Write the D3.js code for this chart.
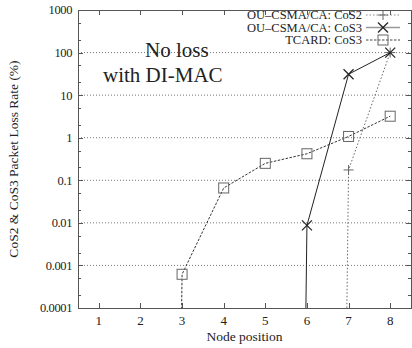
<!DOCTYPE html>
<html>
<head>
<meta charset="utf-8">
<script src="https://cdn.jsdelivr.net/npm/d3@7"></script>
<style>
  body { margin: 0; background: #fff; }
  svg { display: block; font-family: "Liberation Serif", "DejaVu Serif", serif; }
</style>
</head>
<body>
<svg id="chart" width="412" height="348"></svg>
<script>
// node positions and loss rates (%), 0 = no loss
const nodes = [1, 2, 3, 4, 5, 6, 7, 8];
const ouCos2 = [0, 0, 0, 0, 0, 0, 0.175, 100];
const ouCos3 = [0, 0, 0, 0, 0, 0.0087, 31, 100];
const tcardCos3 = [0, 0, 0.00062, 0.066, 0.25, 0.42, 1.07, 3.2];
const yTicks = [0.0001, 0.001, 0.01, 0.1, 1, 10, 100, 1000];
const yTickLabels = ["0.0001", "0.001", "0.01", "0.1", "1", "10", "100", "1000"];

function chart() {
    const svg = d3.select('#chart'),
        left = 78, right = 411, top = 10, bottom = 308;

    const x = d3.scaleLinear().domain([0.5, 8.5]).range([left, right]);
    const y = d3.scaleLog().domain([1e-4, 1e3]).range([bottom, top]);

    svg.append('defs').append('clipPath').attr('id', 'plot')
        .append('rect')
        .attr('x', left).attr('y', top)
        .attr('width', right - left).attr('height', bottom - top);

    // horizontal grid
    svg.append('g')
        .selectAll('line')
        .data(yTicks.slice(1, -1))
        .enter().append('line')
        .attr('x1', left).attr('x2', right)
        .attr('y1', d => y(d)).attr('y2', d => y(d))
        .attr('stroke', '#777')
        .attr('stroke-width', 1)
        .attr('stroke-dasharray', '1,2');

    // annotation
    svg.append('text').attr('x', 145).attr('y', 57)
        .attr('font-size', '21px').attr('fill', '#222').text('No loss');
    svg.append('text').attr('x', 103).attr('y', 82)
        .attr('font-size', '21px').attr('fill', '#222').text('with DI-MAC');

    // ticks, mirrored, pointing inward
    const axis = svg.append('g').attr('stroke', '#555').attr('stroke-width', 1);
    const minors = [];
    yTicks.slice(0, -1).forEach(d => { minors.push(d * 2, d * 5); });
    yTicks.forEach(d => {
        axis.append('line').attr('x1', left).attr('x2', left + 5)
            .attr('y1', Math.round(y(d)) + 0.5).attr('y2', Math.round(y(d)) + 0.5);
        axis.append('line').attr('x1', right - 5).attr('x2', right)
            .attr('y1', Math.round(y(d)) + 0.5).attr('y2', Math.round(y(d)) + 0.5);
    });
    minors.forEach(d => {
        axis.append('line').attr('x1', left).attr('x2', left + 3)
            .attr('y1', Math.round(y(d)) + 0.5).attr('y2', Math.round(y(d)) + 0.5);
        axis.append('line').attr('x1', right - 3).attr('x2', right)
            .attr('y1', Math.round(y(d)) + 0.5).attr('y2', Math.round(y(d)) + 0.5);
    });
    nodes.forEach(d => {
        const px = Math.round(x(d)) + 0.5;
        axis.append('line').attr('x1', px).attr('x2', px)
            .attr('y1', bottom).attr('y2', bottom - 5);
        axis.append('line').attr('x1', px).attr('x2', px)
            .attr('y1', top).attr('y2', top + 5);
    });

    // tick labels
    svg.append('g').selectAll('text')
        .data(yTicks).enter().append('text')
        .attr('x', left - 6).attr('y', d => y(d))
        .attr('dy', '0.35em')
        .attr('text-anchor', 'end')
        .attr('font-size', '12.5px')
        .attr('letter-spacing', '-0.4px')
        .attr('fill', '#222')
        .text((d, i) => yTickLabels[i]);

    svg.append('g').selectAll('text')
        .data(nodes).enter().append('text')
        .attr('x', d => x(d)).attr('y', 325)
        .attr('text-anchor', 'middle')
        .attr('font-size', '13px')
        .attr('fill', '#222')
        .text(d => d);

    svg.append('text')
        .attr('x', (left + right) / 2).attr('y', 341)
        .attr('text-anchor', 'middle')
        .attr('font-size', '13.5px')
        .attr('fill', '#222')
        .text('Node position');

    svg.append('text')
        .attr('transform', 'translate(18,' + ((top + bottom) / 2) + ') rotate(-90)')
        .attr('text-anchor', 'middle')
        .attr('font-size', '13.5px')
        .attr('fill', '#222')
        .text('CoS2 & CoS3 Packet Loss Rate (%)');

    // series
    const series = [
        { name: 'OU\u2013CSMA/CA: CoS2', values: ouCos2, dash: '1.5,2', stroke: '#666', legendStroke: '#888', marker: 'plus' },
        { name: 'OU\u2013CSMA/CA: CoS3', values: ouCos3, dash: null, stroke: '#222', legendStroke: '#999', marker: 'cross' },
        { name: 'TCARD: CoS3', values: tcardCos3, dash: '2.5,1.5', stroke: '#333', legendStroke: '#444', marker: 'square' }
    ];

    // zero loss is drawn far below the axis so the rising segment looks like a drop line
    const line = d3.line()
        .x((d, i) => x(nodes[i]))
        .y(d => y(d > 0 ? d : 1e-80));

    const plot = svg.append('g').attr('clip-path', 'url(#plot)');

    function marker(g, type, cx, cy) {
        const m = g.append('g').attr('stroke', '#666').attr('stroke-width', 1).attr('fill', 'none');
        if (type === 'plus') {
            m.append('line').attr('x1', cx - 5).attr('x2', cx + 5).attr('y1', cy).attr('y2', cy);
            m.append('line').attr('x1', cx).attr('x2', cx).attr('y1', cy - 5).attr('y2', cy + 5);
        } else if (type === 'cross') {
            m.attr('stroke', '#222').attr('stroke-width', 1.2);
            m.append('line').attr('x1', cx - 5).attr('x2', cx + 5).attr('y1', cy - 5).attr('y2', cy + 5);
            m.append('line').attr('x1', cx - 5).attr('x2', cx + 5).attr('y1', cy + 5).attr('y2', cy - 5);
        } else {
            m.append('rect').attr('x', cx - 5).attr('y', cy - 5).attr('width', 10).attr('height', 10)
                .attr('fill', '#fff').attr('fill-opacity', 0);
        }
    }

    series.forEach(s => {
        plot.append('path')
            .attr('d', line(s.values))
            .attr('fill', 'none')
            .attr('stroke', s.stroke)
            .attr('stroke-width', 1)
            .attr('stroke-dasharray', s.dash);
        s.values.forEach((v, i) => {
            if (v > 0) marker(plot, s.marker, x(nodes[i]), y(v));
        });
    });

    // legend
    const legend = svg.append('g');
    series.forEach((s, i) => {
        const ly = 15 + i * 12.5;
        legend.append('text')
            .attr('x', 362).attr('y', ly)
            .attr('dy', '0.33em')
            .attr('text-anchor', 'end')
            .attr('font-size', '12.5px')
            .attr('fill', '#222')
            .text(s.name);
        legend.append('line')
            .attr('x1', 366).attr('x2', 400)
            .attr('y1', ly).attr('y2', ly)
            .attr('stroke', s.legendStroke)
            .attr('stroke-width', s.dash ? 1 : 1.5)
            .attr('stroke-dasharray', s.dash);
        marker(legend, s.marker, 383, ly);
    });

    // frame
    svg.append('rect')
        .attr('x', left + 0.5).attr('y', top + 0.5)
        .attr('width', right - left).attr('height', bottom - top)
        .attr('fill', 'none')
        .attr('stroke', '#555')
        .attr('stroke-width', 1);
}

chart();
</script>
</body>
</html>
